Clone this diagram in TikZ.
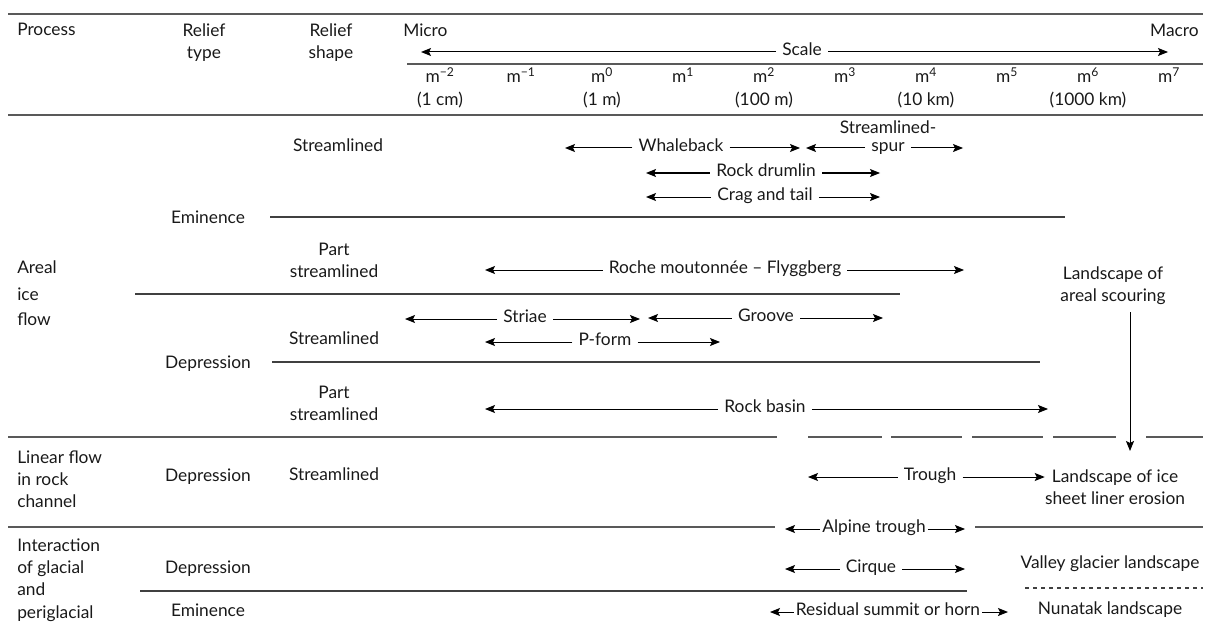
\documentclass[tikz,border=0pt]{standalone}
\usepackage{fontspec}
\setmainfont{Lato}
\usetikzlibrary{arrows.meta}

\begin{document}
\begin{tikzpicture}[x=0.75pt,y=0.75pt,yscale=-1,xscale=1,
  txt/.style={font=\fontsize{13}{16.5}\selectfont, text=black!90, inner sep=0pt, text height=0.72em, text depth=0.22em, yshift=-1.5pt},
  lbl/.style={txt, inner xsep=4.5pt},
  tight/.style={txt, inner xsep=1.5pt},
  multi/.style={font=\fontsize{13}{16.5}\selectfont, text=black!90, inner sep=0pt, align=center, yshift=-1.5pt},
  rule/.style={draw=black!65, line width=1.2pt},
  sep/.style={draw=black!75, line width=0.8pt},
  arr/.style={draw=black, line width=0.75pt, -{Stealth[length=7.5pt,width=6pt,inset=1.5pt]}},
]
\useasboundingbox (0,0) rectangle (1209,624);

%Straight Lines
\draw [rule] (8,14) -- (1203,14) ;
\draw [rule] (407,64) -- (1203,64) ;
\draw [rule] (8,115) -- (1203,115) ;

% Text Node
\draw (17,30) node [txt, anchor=west] (process) {Process};
\draw (204,41) node [multi] (rtype) {Relief\\type};
\draw (331,41) node [multi] (rshape) {Relief\\shape};
\draw (403,31) node [txt, anchor=west] (micro) {Micro};
\draw (1199,31) node [txt, anchor=east] (macro) {Macro};

%Scale arrow
\coordinate (scaleL) at (421,50);
\coordinate (scaleR) at (1168,50);
\draw (802,50) node [lbl] (scale) {Scale};
\draw [arr] (scale.west) -- (scale.west -| scaleL) ;
\draw [arr] (scale.east) -- (scale.east -| scaleR) ;

% Text Node
\foreach \e [count=\i from 0] in {−2,−1,0,1,2,3,4,5,6,7}
  \draw ({440+81*\i},77) node [txt] (m\i) {m\textsuperscript{\e}};
\foreach \s [count=\i from 0] in {1 cm,1 m,100 m,10 km,1000 km}
  \draw ({440+162*\i},100) node [txt] (size\i) {(\s)};

% ---- Areal ice flow
\draw (17,268) node [txt, anchor=west] (areal) {Areal};
\draw (17,295) node [txt, anchor=west] (ice) {ice};
\draw (17,320) node [txt, anchor=west] (flow) {flow};

\draw (338,146) node [txt] (shape1) {Streamlined};
\coordinate (whaleL) at (565,146);
\coordinate (whaleR) at (800,146);
\draw (681,146) node [lbl] (whale) {Whaleback};
\draw [arr] (whale.west) -- (whale.west -| whaleL) ;
\draw [arr] (whale.east) -- (whale.east -| whaleR) ;

\coordinate (spurL) at (806,146);
\coordinate (spurR) at (963,146);
\draw (888,128) node [txt] (spurtop) {Streamlined-};
\draw (888,146) node [lbl] (spur) {spur};
\draw [arr] (spur.west) -- (spur.west -| spurL) ;
\draw [arr] (spur.east) -- (spur.east -| spurR) ;

\coordinate (drumL) at (646,171);
\coordinate (drumR) at (880,171);
\draw (766,171) node [lbl] (drum) {Rock drumlin};
\draw [arr] (drum.west) -- (drum.west -| drumL) ;
\draw [arr] (drum.east) -- (drum.east -| drumR) ;

\coordinate (cragL) at (646,195);
\coordinate (cragR) at (880,195);
\draw (765,195) node [lbl] (crag) {Crag and tail};
\draw [arr] (crag.west) -- (crag.west -| cragL) ;
\draw [arr] (crag.east) -- (crag.east -| cragR) ;

\draw (208,218) node [txt] (type1) {Eminence};
\draw [sep] (270,217) -- (1065,217) ;

\draw (334,258) node [multi] (shape2) {Part\\streamlined};
\coordinate (rocheL) at (485,268);
\coordinate (rocheR) at (964,268);
\draw (725,268) node [lbl] (roche) {Roche moutonnée – Flyggberg};
\draw [arr] (roche.west) -- (roche.west -| rocheL) ;
\draw [arr] (roche.east) -- (roche.east -| rocheR) ;

\draw [sep] (135,294) -- (900,294) ;

\draw (1113,284) node [multi] (scour) {Landscape of\\areal scouring};
\coordinate (scourTop) at (1130,312);
\coordinate (scourEnd) at (1130,451);
\draw [arr] (scourTop) -- (scourEnd) ;

\coordinate (striaeL) at (405,317);
\coordinate (striaeR) at (640,317);
\draw (525,317) node [lbl] (striae) {Striae};
\draw [arr] (striae.west) -- (striae.west -| striaeL) ;
\draw [arr] (striae.east) -- (striae.east -| striaeR) ;

\coordinate (grooveL) at (648,316);
\coordinate (grooveR) at (883,316);
\draw (766,316) node [lbl] (groove) {Groove};
\draw [arr] (groove.west) -- (groove.west -| grooveL) ;
\draw [arr] (groove.east) -- (groove.east -| grooveR) ;

\draw (334,339) node [txt] (shape3) {Streamlined};
\coordinate (pformL) at (485,340);
\coordinate (pformR) at (720,340);
\draw (605,340) node [lbl] (pform) {P-form};
\draw [arr] (pform.west) -- (pform.west -| pformL) ;
\draw [arr] (pform.east) -- (pform.east -| pformR) ;

\draw (208,363) node [txt] (type2) {Depression};
\draw [sep] (272,362) -- (1040,362) ;

\draw (334,401) node [multi] (shape4) {Part\\streamlined};
\coordinate (basinL) at (485,407);
\coordinate (basinR) at (1048,407);
\draw (765,407) node [lbl] (basin) {Rock basin};
\draw [arr] (basin.west) -- (basin.west -| basinL) ;
\draw [arr] (basin.east) -- (basin.east -| basinR) ;

%Straight Lines
\draw [rule] (8,437) -- (777,437) ;
\foreach \a/\b in {808/882,891/962,972/1043,1053/1116,1146/1203}
  \draw [rule] (\a,437) -- (\b,437) ;

% ---- Linear flow in rock channel
\draw (17,477) node [multi, anchor=west, align=left] (linear) {Linear flow\\in rock\\channel};
\draw (208,476) node [txt] (type3) {Depression};
\draw (334,475) node [txt] (shape5) {Streamlined};
\draw (1115,485) node [multi] (liner) {Landscape of ice\\sheet liner erosion};
\coordinate (troughL) at (808,475);
\draw (930,475) node [lbl] (trough) {Trough};
\draw [arr] (trough.west) -- (trough.west -| troughL) ;
\draw [arr] (trough.east) -- (trough.east -| liner.west) ;

%Straight Lines
\coordinate (alpineL) at (785,527);
\coordinate (alpineR) at (965,527);
\draw (874,527) node [tight] (alpine) {Alpine trough};
\draw [arr] (alpine.west) -- (alpine.west -| alpineL) ;
\draw [arr] (alpine.east) -- (alpine.east -| alpineR) ;
\draw [rule] (8,527) -- (775,527) ;
\draw [rule] (975,527) -- (1203,527) ;

% ---- Interaction of glacial and periglacial
\draw (17,578) node [multi, anchor=west, align=left, font=\fontsize{13}{16.8}\selectfont] (inter) {Interaction\\of glacial\\and\\periglacial};
\draw (208,568) node [txt] (type4) {Depression};
\coordinate (cirqueL) at (785,567);
\coordinate (cirqueR) at (965,567);
\draw (871,567) node [lbl] (cirque) {Cirque};
\draw [arr] (cirque.west) -- (cirque.west -| cirqueL) ;
\draw [arr] (cirque.east) -- (cirque.east -| cirqueR) ;
\draw (1110,563) node [txt] (valley) {Valley glacier landscape};

\draw [sep] (140,591) -- (967,591) ;
\draw [sep, dashed] (1025,588) -- (1203,588) ;

\draw (208,611) node [txt] (type5) {Eminence};
\coordinate (residL) at (770,610);
\coordinate (residR) at (1008,610);
\draw (888,610) node [tight] (resid) {Residual summit or horn};
\draw [arr] (resid.west) -- (resid.west -| residL) ;
\draw [arr] (resid.east) -- (resid.east -| residR) ;
\draw (1110,609) node [txt] (nunatak) {Nunatak landscape};

\end{tikzpicture}
\end{document}
